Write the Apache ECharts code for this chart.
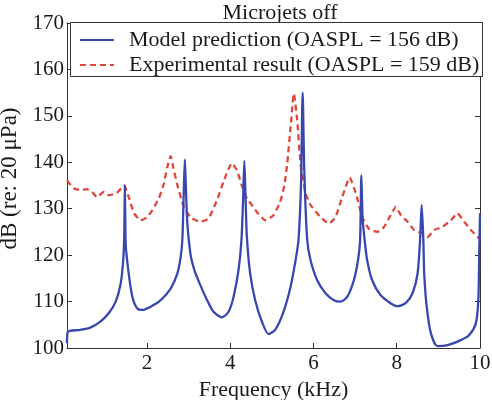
<!DOCTYPE html>
<html>
<head>
<meta charset="utf-8">
<script src="https://cdn.jsdelivr.net/npm/echarts@6/dist/echarts.min.js"></script>
<style>html,body{margin:0;padding:0;background:#fff}#c{width:492px;height:400px}</style>
</head>
<body>
<div id="c"></div>
<script>
const titleText = 'Microjets off';
const xName = 'Frequency (kHz)';
const yName = 'dB (re: 20 μPa)';
const seriesNames = ['Model prediction (OASPL = 156 dB)', 'Experimental result (OASPL = 159 dB)'];
const xTicks = [2, 4, 6, 8, 10];
const yTicks = [100, 110, 120, 130, 140, 150, 160, 170];

const freqModel = [0.08,0.10,0.40,0.64,0.88,1.08,1.25,1.37,1.43,1.455,1.47,1.485,1.50,1.57,1.65,1.77,1.89,2.09,2.33,2.57,2.73,2.81,2.85,2.88,2.91,2.93,2.97,3.05,3.15,3.28,3.44,3.60,3.80,3.96,4.08,4.20,4.27,4.31,4.34,4.37,4.40,4.48,4.60,4.76,4.92,5.08,5.28,5.45,5.57,5.64,5.70,5.74,5.78,5.85,5.93,6.09,6.29,6.49,6.65,6.81,6.97,7.07,7.12,7.15,7.18,7.23,7.29,7.41,7.61,7.86,8.02,8.22,8.38,8.50,8.56,8.60,8.64,8.66,8.72,8.82,8.98,9.22,9.54,9.74,9.90,9.96,9.98,10.0];
const dBModel = [101,103.5,103.9,104.4,105.7,107.5,110,113.9,118.9,124,135,124,121,115.5,111,108.5,108.2,108.9,110.3,112.8,116,119.6,123.2,132,140.6,136,127,120,116.5,113.6,110.4,107.8,106.6,107.8,111,116.8,123.2,132,140.3,132,124,116,110.3,105.7,103,103.9,107.8,113.2,118.9,123.2,135,155,138,123.2,118.9,114.6,111.8,110.3,110,111,114.6,118.9,123.2,137.2,128,123.2,118.9,114.6,111.4,109.6,109,109.7,111.8,116,123.2,130.8,123,116,108.9,103.2,100.4,100.6,101.7,102.8,105.3,110.3,119.6,129];

const freqExp = [0.08,0.24,0.40,0.56,0.68,0.80,0.96,1.08,1.28,1.45,1.57,1.69,1.85,2.01,2.13,2.29,2.41,2.49,2.57,2.63,2.72,2.87,3.04,3.28,3.48,3.68,3.88,4.04,4.16,4.28,4.40,4.52,4.64,4.84,5.04,5.20,5.30,5.37,5.45,5.53,5.61,5.69,5.81,5.93,6.17,6.37,6.53,6.69,6.87,7.03,7.17,7.33,7.53,7.69,7.81,7.98,8.10,8.26,8.42,8.62,8.74,8.90,9.10,9.30,9.46,9.62,9.78,9.98];
const dBExp = [136.1,134.4,134,134.2,133.6,132.5,133.6,132.9,133.4,135,132.3,129,127.5,128.2,129.7,132.3,135.5,139,141.3,139,135.5,130.8,128.2,127.2,127.9,131.8,136.8,139.8,138.3,135,132.2,130.8,129.3,127.5,128.6,131.5,135,139.7,147.6,154.8,149,139.7,133.3,130.8,128.2,126.8,128.2,132.5,136.7,133,128.2,125.7,125,126,127.9,130.4,128.6,127.2,125.4,124.7,123.9,125.4,126.1,127.5,129,127.2,125.4,123.6];

const font = 'Liberation Serif, Times New Roman, serif';
const txt = '#1a1a1a';
const blue = '#3a46b0';
const red = '#e0463c';
const modelData = freqModel.map((f, i) => [f, dBModel[i]]);
const expData = freqExp.map((f, i) => [f, dBExp[i]]);

const chart = echarts.init(document.getElementById('c'), null, {renderer: 'canvas'});
const axisLine = {show: true, lineStyle: {color: '#333', width: 1}};
chart.setOption({
  animation: false,
  backgroundColor: '#fff',
  title: {text: titleText, left: 275, textAlign: 'center', top: -3,
    textStyle: {fontFamily: font, fontSize: 22, fontWeight: 'normal', color: txt}},
  grid: {left: 67, right: 12, top: 23, bottom: 52, outerBoundsMode: 'none', containLabel: false},
  graphic: [{type: 'rect', left: 70, top: 22, z: 90,
    shape: {width: 412, height: 54},
    style: {fill: '#fff', stroke: '#333', lineWidth: 1}}],
  legend: {
    orient: 'vertical', left: 74, top: 24, z: 100,
    itemWidth: 34, itemHeight: 14, itemGap: 3,
    itemStyle: {opacity: 0},
    textStyle: {fontFamily: font, fontSize: 22, color: txt, lineHeight: 22, padding: [0, 0, 0, 10]},
    data: seriesNames
  },
  xAxis: [{
    type: 'value', min: 0.08, max: 10,
    name: xName, nameLocation: 'middle', nameGap: 25,
    nameTextStyle: {fontFamily: font, fontSize: 22, color: txt},
    axisLine: axisLine,
    axisTick: {show: true, inside: true, length: 5, customValues: xTicks, lineStyle: {color: '#333'}},
    axisLabel: {customValues: xTicks, fontFamily: font, fontSize: 21, color: txt, margin: 5},
    splitLine: {show: false}
  }, {
    type: 'value', position: 'top', min: 0.08, max: 10,
    axisLine: axisLine,
    axisTick: {show: true, inside: true, length: 5, customValues: xTicks, lineStyle: {color: '#333'}},
    axisLabel: {show: false}, splitLine: {show: false}
  }],
  yAxis: [{
    type: 'value', min: 100, max: 170, interval: 10,
    name: yName, nameLocation: 'middle', nameGap: 28, nameRotate: 90,
    nameTextStyle: {fontFamily: font, fontSize: 23, color: txt, padding: [0, 0, 0, 14]},
    axisLine: axisLine,
    axisTick: {show: true, inside: true, length: 5, lineStyle: {color: '#333'}},
    axisLabel: {fontFamily: font, fontSize: 21, color: txt, margin: 3},
    splitLine: {show: false}
  }, {
    type: 'value', position: 'right', min: 100, max: 170, interval: 10,
    axisLine: axisLine,
    axisTick: {show: true, inside: true, length: 5, lineStyle: {color: '#333'}},
    axisLabel: {show: false}, splitLine: {show: false}
  }],
  series: [{
    name: seriesNames[0], type: 'line', data: modelData, symbol: 'none', smooth: 0.25,
    xAxisIndex: 0, yAxisIndex: 0,
    lineStyle: {color: blue, width: 2.3},
    itemStyle: {color: blue}, z: 3
  }, {
    name: seriesNames[1], type: 'line', data: expData, symbol: 'none', smooth: 0.15,
    xAxisIndex: 0, yAxisIndex: 0,
    lineStyle: {color: red, width: 2.3, type: [6, 4]},
    itemStyle: {color: red}, z: 2
  }]
});
</script>
</body>
</html>
